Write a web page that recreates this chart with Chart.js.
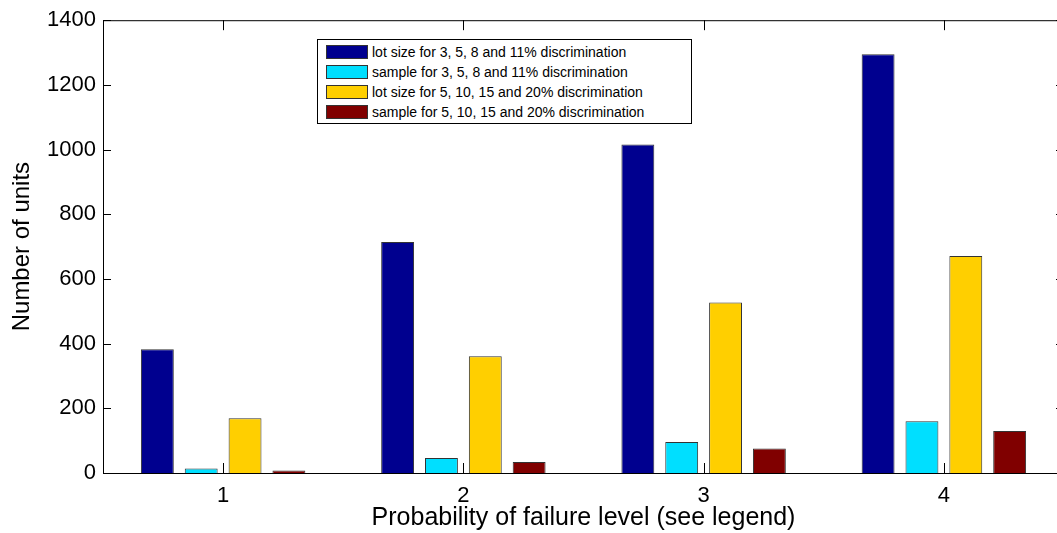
<!DOCTYPE html>
<html>
<head>
<meta charset="utf-8">
<script src="https://cdn.jsdelivr.net/npm/chart.js@4/dist/chart.umd.min.js"></script>
<style>
  html, body { margin: 0; padding: 0; background: #fff; overflow: hidden; }
  #wrap { position: relative; width: 1066px; height: 533px; }
  #legend {
    position: absolute; left: 317px; top: 39px; width: 375px; height: 85px;
    border: 1px solid #000; background: #fff; box-sizing: border-box;
    font-family: 'Liberation Sans', Arial, sans-serif; font-size: 14px; color: #000;
    padding-top: 2px;
  }
  .legend-item { display: flex; align-items: center; height: 20px; }
  .legend-color { width: 42px; height: 14px; margin-left: 8px; margin-right: 4px; border: 1px solid #333; box-sizing: border-box; }
</style>
</head>
<body>
<div id="wrap">
  <canvas id="barChart" width="1066" height="533"></canvas>
  <div id="legend"></div>
</div>
<script>
// Données
const categories = ['1', '2', '3', '4'];
const lotSize3to11 = [383, 714, 1016, 1295];
const sample3to11 = [14, 46, 96, 160];
const lotSize5to20 = [169, 361, 527, 671];
const sample5to20 = [8, 34, 76, 130];
const yTicks = [0, 200, 400, 600, 800, 1000, 1200, 1400];

const seriesLabels = [
  'lot size for 3, 5, 8 and 11% discrimination',
  'sample for 3, 5, 8 and 11% discrimination',
  'lot size for 5, 10, 15 and 20% discrimination',
  'sample for 5, 10, 15 and 20% discrimination'
];

const colors = ['#00008f', '#00dfff', '#ffcf00', '#800000'];
const fontFamily = "'Liberation Sans', Arial, sans-serif";

// Cadre + graduations intérieures façon MATLAB
const matlabBox = {
  id: 'matlabBox',
  afterDraw(chart) {
    const { ctx, chartArea: a, scales } = chart;
    ctx.save();
    ctx.strokeStyle = '#000';
    ctx.lineWidth = 1;
    ctx.strokeRect(a.left + 0.5, a.top + 0.5, a.right - a.left, a.bottom - a.top);
    ctx.beginPath();
    yTicks.forEach(v => {
      const y = Math.round(scales.y.getPixelForValue(v)) + 0.5;
      ctx.moveTo(a.left, y); ctx.lineTo(a.left + 8, y);
      ctx.moveTo(a.right, y); ctx.lineTo(a.right - 8, y);
    });
    categories.forEach((c, i) => {
      const x = Math.round(scales.x.getPixelForValue(i)) + 0.5;
      ctx.moveTo(x, a.bottom); ctx.lineTo(x, a.bottom - 10);
      ctx.moveTo(x, a.top); ctx.lineTo(x, a.top + 10);
    });
    ctx.stroke();
    ctx.restore();
  }
};

const makeDataset = (label, data, color) => ({
  label: label,
  data: data,
  backgroundColor: color,
  borderColor: '#333',
  borderWidth: 1,
  categoryPercentage: 0.73,
  barPercentage: 0.75
});

const chart = new Chart(document.getElementById('barChart'), {
  type: 'bar',
  data: {
    labels: categories,
    datasets: [
      makeDataset(seriesLabels[0], lotSize3to11, colors[0]),
      makeDataset(seriesLabels[1], sample3to11, colors[1]),
      makeDataset(seriesLabels[2], lotSize5to20, colors[2]),
      makeDataset(seriesLabels[3], sample5to20, colors[3])
    ]
  },
  options: {
    responsive: false,
    animation: false,
    layout: { padding: { top: 20, right: 2, left: 0, bottom: 0 } },
    plugins: { legend: { display: false }, tooltip: { enabled: false } },
    scales: {
      x: {
        grid: { display: false, drawTicks: false },
        border: { display: false },
        ticks: { color: '#000', padding: 10, font: { family: fontFamily, size: 22 } },
        title: {
          display: true, text: 'Probability of failure level (see legend)', color: '#000',
          font: { family: fontFamily, size: 25 }, padding: { top: 0, bottom: 0 }
        },
        afterFit(scale) { scale.height = 60; }
      },
      y: {
        min: 0, max: 1400,
        grid: { display: false, drawTicks: false },
        border: { display: false },
        afterBuildTicks(scale) { scale.ticks = yTicks.map(v => ({ value: v })); },
        ticks: {
          color: '#000', padding: 7, font: { family: fontFamily, size: 22 },
          callback: value => String(value)
        },
        title: {
          display: true, text: 'Number of units', color: '#000',
          font: { family: fontFamily, size: 24 }, padding: { top: 8, bottom: 0 }
        },
        afterFit(scale) { scale.width = 103; }
      }
    }
  },
  plugins: [matlabBox]
});

// Légende HTML
const legend = document.getElementById('legend');
chart.data.datasets.forEach(ds => {
  const item = document.createElement('div');
  item.className = 'legend-item';
  item.innerHTML = `<div class="legend-color" style="background-color: ${ds.backgroundColor}"></div><span>${ds.label}</span>`;
  legend.appendChild(item);
});
</script>
</body>
</html>
